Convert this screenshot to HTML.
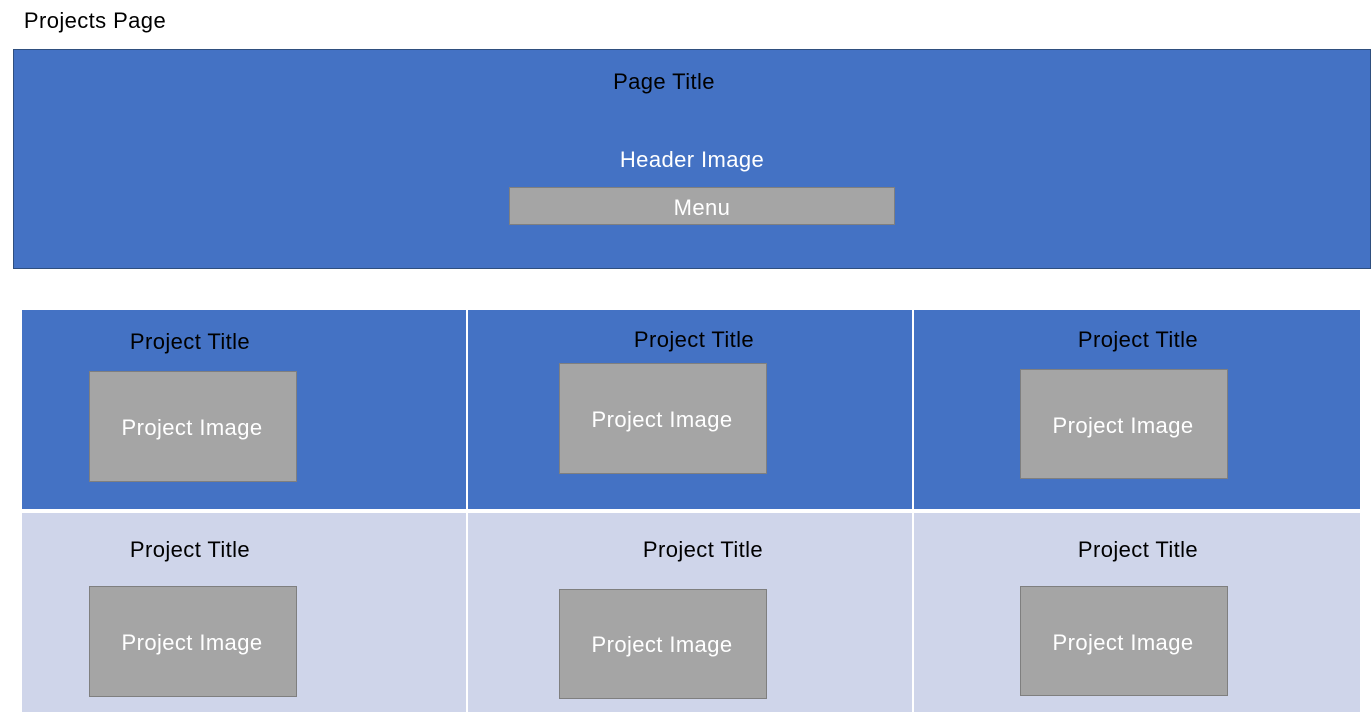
<!DOCTYPE html>
<html><head><style>
body{margin:0;width:1372px;height:724px;background:#fff;position:relative;overflow:hidden;font-family:"Liberation Sans",sans-serif;}
div{position:absolute;box-sizing:border-box;}
.t{transform:translate(-50%,-50%);white-space:nowrap;font-size:22px;letter-spacing:0.4px;color:#000;}
.w{color:#fff;}
.g{background:#a5a5a5;border:1px solid #7f7f7f;}
</style></head><body>
<div class="t" style="left:95px;top:21px">Projects Page</div>
<div style="left:13px;top:49px;width:1358px;height:220px;background:#4472c4;border:1px solid #2f4f7f"></div>
<div class="t" style="left:664px;top:82px">Page Title</div>
<div class="t w" style="left:692px;top:160px">Header Image</div>
<div class="g" style="left:509px;top:187px;width:386px;height:38px"></div>
<div class="t w" style="left:702px;top:208px">Menu</div>

<div style="left:22px;top:310px;width:1338px;height:199px;background:#4472c4"></div>
<div style="left:22px;top:513px;width:1338px;height:199px;background:#cfd5ea"></div>
<div style="left:466px;top:310px;width:2px;height:402px;background:#fff"></div>
<div style="left:912px;top:310px;width:2px;height:402px;background:#fff"></div>

<div class="g" style="left:89px;top:371px;width:208px;height:111px"></div>
<div class="g" style="left:559px;top:363px;width:208px;height:111px"></div>
<div class="g" style="left:1020px;top:369px;width:208px;height:110px"></div>
<div class="g" style="left:89px;top:586px;width:208px;height:111px"></div>
<div class="g" style="left:559px;top:589px;width:208px;height:110px"></div>
<div class="g" style="left:1020px;top:586px;width:208px;height:110px"></div>

<div class="t" style="left:190px;top:342px">Project Title</div>
<div class="t" style="left:694px;top:340px">Project Title</div>
<div class="t" style="left:1138px;top:340px">Project Title</div>
<div class="t" style="left:190px;top:550px">Project Title</div>
<div class="t" style="left:703px;top:550px">Project Title</div>
<div class="t" style="left:1138px;top:550px">Project Title</div>

<div class="t w" style="left:192px;top:428px">Project Image</div>
<div class="t w" style="left:662px;top:420px">Project Image</div>
<div class="t w" style="left:1123px;top:426px">Project Image</div>
<div class="t w" style="left:192px;top:643px">Project Image</div>
<div class="t w" style="left:662px;top:645px">Project Image</div>
<div class="t w" style="left:1123px;top:643px">Project Image</div>
</body></html>
